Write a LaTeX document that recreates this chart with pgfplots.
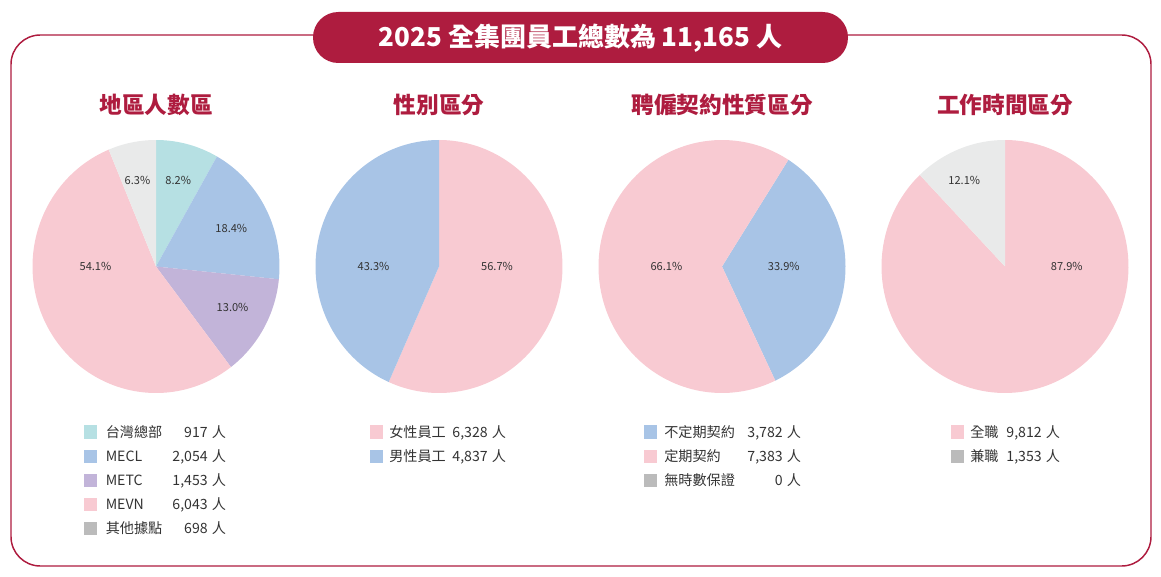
\documentclass[border=0pt]{standalone}
\usepackage{pgfplots}
\usepackage{pgfplotstable}
\pgfplotsset{compat=1.18}
\usepackage{fontspec}
\setmainfont{Noto Sans CJK TC}

\definecolor{brand}{HTML}{AE1C3F}
\definecolor{cTW}{HTML}{B6E0E3}
\definecolor{cBlue}{HTML}{A8C4E6}
\definecolor{cPurple}{HTML}{C2B4D9}
\definecolor{cPink}{HTML}{F8CAD2}
\definecolor{cGrey}{HTML}{E9EAEA}
\definecolor{cKeyGrey}{HTML}{BBBBBB}
\definecolor{ink}{HTML}{333333}

% headcount by group: count, slice fill, legend key colour, label position (axis units)
\pgfplotstableread[col sep=comma]{
name,count,fill,key,lx,ly
台灣總部,917,cTW,cTW,0.18,0.68
MECL,2054,cBlue,cBlue,0.61,0.30
METC,1453,cPurple,cPurple,0.62,-0.32
MEVN,6043,cPink,cPink,-0.49,0
其他據點,698,cGrey,cKeyGrey,-0.15,0.68
}\regiontable

\pgfplotstableread[col sep=comma]{
name,count,fill,key,lx,ly
女性員工,6328,cPink,cPink,0.47,0
男性員工,4837,cBlue,cBlue,-0.53,0
}\gendertable

\pgfplotstableread[col sep=comma]{
name,count,fill,key,lx,ly
不定期契約,3782,cBlue,cBlue,0.50,0
定期契約,7383,cPink,cPink,-0.45,0
無時數保證,0,cGrey,cKeyGrey,0,0
}\contracttable

\pgfplotstableread[col sep=comma]{
name,count,fill,key,lx,ly
全職,9812,cPink,cPink,0.50,0
兼職,1353,cGrey,cKeyGrey,-0.33,0.68
}\hourstable

\newcommand\labelfont{\fontsize{8.3}{10}\selectfont}
\newcommand\legendfont{\fontsize{10.6}{12}\selectfont}

% slices run clockwise from 12 o'clock, turned by #2 degrees
\newcommand\drawpie[2]{%
  \pgfplotstablegetrowsof{#1}%
  \pgfmathtruncatemacro\lastrow{\pgfplotsretval-1}%
  \xdef\pietotal{0}%
  \foreach \r in {0,...,\lastrow}{%
    \pgfplotstablegetelem{\r}{count}\of{#1}%
    \pgfmathtruncatemacro\tmp{\pietotal+\pgfplotsretval}%
    \xdef\pietotal{\tmp}%
  }%
  \xdef\cumcount{0}%
  \foreach \r in {0,...,\lastrow}{%
    \pgfplotstablegetelem{\r}{count}\of{#1}\let\cnt\pgfplotsretval
    \pgfplotstablegetelem{\r}{fill}\of{#1}\let\fc\pgfplotsretval
    \pgfplotstablegetelem{\r}{lx}\of{#1}\let\lx\pgfplotsretval
    \pgfplotstablegetelem{\r}{ly}\of{#1}\let\ly\pgfplotsretval
    \ifnum\cnt>0
      \pgfmathsetmacro\angB{90-#2-360*(\cumcount/\pietotal)}%
      \pgfmathtruncatemacro\tmp{\cumcount+\cnt}%
      \xdef\cumcount{\tmp}%
      \pgfmathsetmacro\angA{90-#2-360*(\cumcount/\pietotal)}%
      \pgfmathtruncatemacro\tenths{round(1000*(\cnt/\pietotal))}%
      \pgfmathtruncatemacro\ip{\tenths/10}%
      \pgfmathtruncatemacro\fp{\tenths-10*\ip}%
      \edef\doslice{%
        \noexpand\addplot[draw=none, fill=\fc, domain=\angA:\angB, samples=120, variable=\noexpand\t]
          ({cos(\noexpand\t)},{sin(\noexpand\t)}) -- (axis cs:0,0) -- cycle;
        \noexpand\node[font=\noexpand\labelfont, text=ink] at (axis cs:\lx,\ly) {\ip.\fp\noexpand\%};
      }%
      \doslice
    \fi
  }%
}

% legend rows: #2 key left, #3 name left, #4 number right, #5 first row centre (px)
\newcommand\drawlegend[5]{%
  \pgfplotstablegetrowsof{#1}%
  \pgfmathtruncatemacro\lastrow{\pgfplotsretval-1}%
  \foreach \r in {0,...,\lastrow}{%
    \pgfmathsetmacro\yy{#5+24*\r}%
    \pgfplotstablegetelem{\r}{key}\of{#1}\let\kc\pgfplotsretval
    \fill[\kc] (#2,\yy-6.5) rectangle ++(13,13);
    \pgfplotstablegetelem{\r}{name}\of{#1}%
    \node[anchor=base west, inner sep=0pt, font=\legendfont, text=ink] at (#3,\yy+5) {\pgfplotsretval};
    \pgfplotstablegetelem{\r}{count}\of{#1}%
    \node[anchor=base east, inner sep=0pt, font=\legendfont, text=ink] at (#4,\yy+5)
      {\pgfmathprintnumber[1000 sep={,}, assume math mode=true]{\pgfplotsretval}};
    \node[anchor=base west, inner sep=0pt, font=\legendfont, text=ink] at (#4+3.5,\yy+5) {人};
  }%
}

\pgfplotsset{
  pie axis/.style={
    anchor=center, hide axis, scale only axis, clip=false,
    width=185.25pt, height=189.75pt,
    xmin=-1, xmax=1, ymin=-1, ymax=1,
  },
}

\begin{document}
\begin{tikzpicture}[x=0.75pt, y=-0.75pt]
\useasboundingbox (0,0) rectangle (1161,577);

% frame and headline banner
\draw[brand, line width=1.1pt, rounded corners=22pt] (11,35) rectangle (1151,566);
\fill[brand, rounded corners=19pt] (313,12) rectangle (848,63);
\node[text=white, font=\fontsize{19.5}{22}\selectfont\bfseries] at (580.5,38) {2025 全集團員工總數為 11,165 人};

% panel titles
\foreach \cx/\ttl in {156/地區人數區, 439/性別區分, 722/聘僱契約性質區分, 1005/工作時間區分}{
  \node[text=brand, font=\fontsize{17}{20}\selectfont\bfseries] at (\cx,105) {\ttl};
}

\begin{axis}[pie axis, at={(117pt,-199.875pt)}]
  \drawpie{\regiontable}{0}
\end{axis}
\begin{axis}[pie axis, at={(329.25pt,-199.875pt)}]
  \drawpie{\gendertable}{0}
\end{axis}
\begin{axis}[pie axis, at={(541.5pt,-199.875pt)}]
  \drawpie{\contracttable}{32.5}
\end{axis}
\begin{axis}[pie axis, at={(753.75pt,-199.875pt)}]
  \drawpie{\hourstable}{0}
\end{axis}

\drawlegend{\regiontable}{84}{105.5}{208}{432}
\drawlegend{\gendertable}{370}{389}{488}{432}
\drawlegend{\contracttable}{644}{664}{783}{432}
\drawlegend{\hourstable}{951}{970}{1042}{432}
\end{tikzpicture}
\end{document}
